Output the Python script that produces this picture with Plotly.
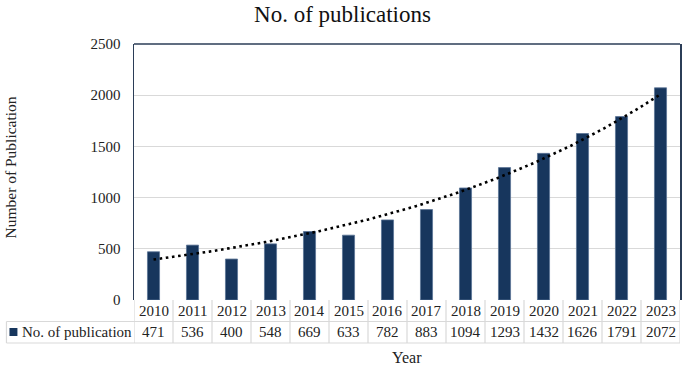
import numpy as np
import plotly.graph_objects as go

years = ["2010", "2011", "2012", "2013", "2014", "2015", "2016",
         "2017", "2018", "2019", "2020", "2021", "2022", "2023"]
publications = [471, 536, 400, 548, 669, 633, 782, 883, 1094, 1293, 1432, 1626, 1791, 2072]
series_name = "No. of publication"
y_ticks = [0, 500, 1000, 1500, 2000, 2500]

FONT = "Liberation Serif"
NAVY = "#17365d"
FRAME = "#2b3d57"
GRID = "#d9d9d9"
TXT = "#222"
FS = 15

n = len(years)
xs = np.arange(n)

# Exponential trendline (least squares on log values, like Excel)
b, a = np.polyfit(xs + 1, np.log(publications), 1)
xt = np.linspace(0, n - 1, 200)
yt = np.exp(a + b * (xt + 1))

# plot area geometry (pixels)
L, R, T, B = 134, 3, 44, 65
W = 685 - L - R

fig = go.Figure()
fig.add_trace(go.Bar(
    x=xs, y=publications, width=0.31, name=series_name,
    marker=dict(color=NAVY, line=dict(color="#5b7396", width=0.8)),
    showlegend=False, hoverinfo="skip",
))
fig.add_trace(go.Scatter(
    x=xt, y=yt, mode="lines", showlegend=False, hoverinfo="skip",
    line=dict(color="black", width=2.6, dash="2.6px,3.6px"),
))

shapes = []
# top frame line
shapes.append(dict(type="line", xref="paper", yref="paper", x0=0, x1=1, y0=1, y1=1,
                   line=dict(color=FRAME, width=1.5)))
# table lines
x_left_hdr = (6 - L) / W
for yy in (-21.5, -43):
    shapes.append(dict(type="line", xref="paper", yref="paper", ysizemode="pixel", yanchor=0,
                       x0=x_left_hdr, x1=1, y0=yy, y1=yy, line=dict(color=GRID, width=1.2)))
shapes.append(dict(type="line", xref="paper", yref="paper", ysizemode="pixel", yanchor=0,
                   x0=x_left_hdr, x1=x_left_hdr, y0=-21.5, y1=-43, line=dict(color=GRID, width=1.2)))
for i in range(n + 1):
    shapes.append(dict(type="line", xref="x", yref="paper", ysizemode="pixel", yanchor=0,
                       x0=i - 0.5, x1=i - 0.5, y0=0, y1=-43, line=dict(color=GRID, width=1.2)))
# legend key square
shapes.append(dict(type="rect", xref="paper", yref="paper", ysizemode="pixel", yanchor=0,
                   x0=(9 - L) / W, x1=(17 - L) / W, y0=-28, y1=-36,
                   fillcolor=NAVY, line=dict(width=0)))

annotations = []
for i, (yr, v) in enumerate(zip(years, publications)):
    annotations.append(dict(x=i, y=0, xref="x", yref="paper", yshift=-11, text=yr,
                            showarrow=False, yanchor="middle",
                            font=dict(family=FONT, size=FS, color=TXT)))
    annotations.append(dict(x=i, y=0, xref="x", yref="paper", yshift=-32, text=str(v),
                            showarrow=False, yanchor="middle",
                            font=dict(family=FONT, size=FS, color=TXT)))
annotations.append(dict(x=(20 - L) / W, y=0, xref="paper", yref="paper", yshift=-32,
                        text=series_name, showarrow=False, xanchor="left", yanchor="middle",
                        font=dict(family=FONT, size=FS, color=TXT)))
annotations.append(dict(x=0.5, y=0, xref="paper", yref="paper", yshift=-57, text="Year",
                        showarrow=False, yanchor="middle",
                        font=dict(family=FONT, size=16, color=TXT)))
annotations.append(dict(x=(10 - L) / W, y=(300 - 167) / 256, xref="paper", yref="paper",
                        text="Number of Publication", textangle=-90, showarrow=False,
                        xanchor="center", yanchor="middle",
                        font=dict(family=FONT, size=15.5, color=TXT)))

fig.update_layout(
    width=685, height=365,
    margin=dict(l=L, r=R, t=T, b=B),
    paper_bgcolor="white", plot_bgcolor="white",
    title=dict(text="No. of publications", x=0.5, xref="container", xanchor="center",
               y=1 - 14 / 365, yref="container", yanchor="middle",
               font=dict(family=FONT, size=23, color="#111")),
    xaxis=dict(range=[-0.5, n - 0.5], showticklabels=False, showgrid=False,
               zeroline=False, showline=False, ticks=""),
    yaxis=dict(range=[0, 2500], tickvals=y_ticks, showgrid=True, gridcolor=GRID,
               gridwidth=1.2, zeroline=False, showline=True, linecolor=FRAME,
               linewidth=1.5, mirror=True, ticks="", ticklabelstandoff=9,
               tickfont=dict(family=FONT, size=FS, color=TXT)),
    shapes=shapes, annotations=annotations, bargap=0.69,
)

fig.write_html("out.html", config={"displayModeBar": False, "staticPlot": True},
               post_script="document.body.style.margin='0';document.body.style.overflow='hidden';")
